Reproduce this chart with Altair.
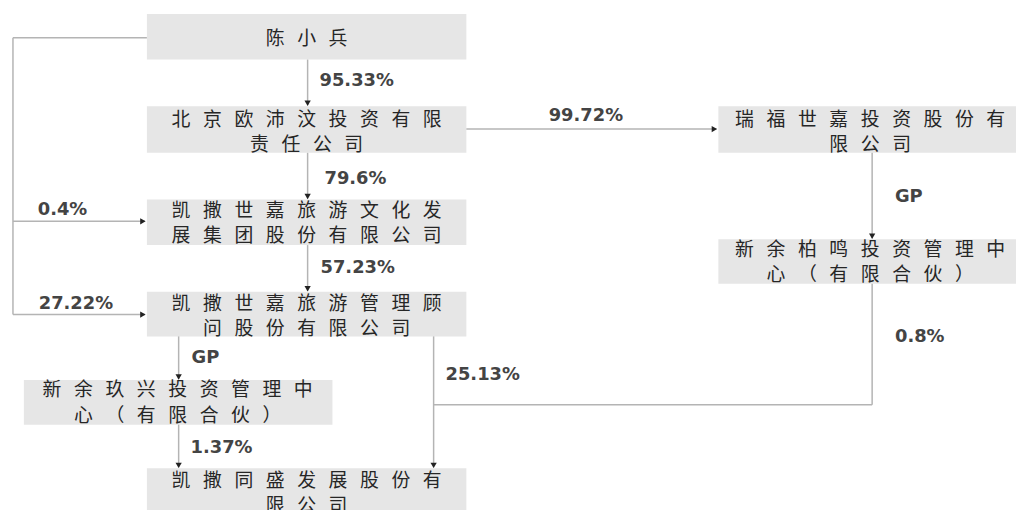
import altair as alt
import pandas as pd

# ---- nodes (company boxes) ----
node_names = [
    "陈小兵",
    "北京欧沛汶投资有限\n责任公司",
    "凯撒世嘉旅游文化发\n展集团股份有限公司",
    "瑞福世嘉投资股份有\n限公司",
    "新余柏鸣投资管理中\n心（有限合伙）",
    "凯撒世嘉旅游管理顾\n问股份有限公司",
    "新余玖兴投资管理中\n心（有限合伙）",
    "凯撒同盛发展股份有\n限公司",
]
box_x1 = [148, 148, 148, 724, 724, 148, 24, 148]
box_x2 = [470, 470, 470, 1030, 1030, 470, 335, 470]
box_y1 = [12, 105, 199, 105, 239, 292, 381, 470]
box_y2 = [58, 152, 245, 152, 284, 337, 426, 520]
text_x = [309, 309, 309, 877, 877, 309, 179, 309]
text_y = [37, 118.5, 210.5, 118.5, 250, 304, 391.5, 482.5]

# ---- connector segments ----
seg_x1 = [310, 310, 310, 470, 879, 148, 13, 13, 13, 180, 180, 437, 879, 879]
seg_y1 = [58, 152, 245, 128, 152, 36, 36, 221, 315, 337, 426, 337, 284, 406]
seg_x2 = [310, 310, 310, 722, 879, 13, 13, 146, 146, 180, 180, 437, 879, 437]
seg_y2 = [104, 198, 291, 128, 238, 36, 315, 221, 315, 380, 469, 469, 406, 406]

# ---- arrow heads ----
arr_x = [310, 310, 310, 720, 879, 144, 144, 180, 180, 437]
arr_y = [102, 196, 289, 128, 236, 221, 315, 378, 467, 467]
arr_shape = ["triangle-down", "triangle-down", "triangle-down", "triangle-right",
             "triangle-down", "triangle-right", "triangle-right",
             "triangle-down", "triangle-down", "triangle-down"]

# ---- edge labels ----
edge_labels = ["95.33%", "79.6%", "0.4%", "99.72%", "GP", "57.23%",
               "27.22%", "GP", "25.13%", "1.37%", "0.8%"]
edge_x = [322, 327, 38, 553, 902, 323, 39, 193, 449, 192, 902]
edge_y = [80, 178, 209.5, 115, 196.5, 268, 304, 359, 376, 450, 338]

SP = "\u2002\u2006"


def spaced(s):
    return "\n".join(SP.join(list(line)) for line in s.split("\n"))


nodes = pd.DataFrame({
    "name": [spaced(n) for n in node_names],
    "x1": box_x1, "x2": box_x2, "y1": box_y1, "y2": box_y2,
    "tx": text_x, "ty": text_y,
})
segs = pd.DataFrame({"x1": seg_x1, "y1": seg_y1, "x2": seg_x2, "y2": seg_y2})
arrows = pd.DataFrame({"x": arr_x, "y": arr_y, "shape": arr_shape})
edges = pd.DataFrame({"label": edge_labels, "x": edge_x, "y": edge_y})

xs = alt.Scale(domain=[8, 1024], nice=False, zero=False)
ys = alt.Scale(domain=[8, 510], nice=False, zero=False, reverse=True)

boxes = alt.Chart(nodes).mark_rect(color="#e6e6e6").encode(
    x=alt.X("x1:Q", scale=xs, axis=None),
    x2="x2:Q",
    y=alt.Y("y1:Q", scale=ys, axis=None),
    y2="y2:Q",
)

box_text = alt.Chart(nodes).mark_text(
    font="Noto Sans CJK SC", fontSize=19, color="#262626",
    align="center", baseline="middle", lineBreak="\n", lineHeight=25.5,
).encode(
    x=alt.X("tx:Q", scale=xs, axis=None),
    y=alt.Y("ty:Q", scale=ys, axis=None),
    text="name:N",
)

lines = alt.Chart(segs).mark_rule(color="#b4b4b4", strokeWidth=1.5).encode(
    x=alt.X("x1:Q", scale=xs, axis=None),
    y=alt.Y("y1:Q", scale=ys, axis=None),
    x2="x2:Q",
    y2="y2:Q",
)

heads = alt.Chart(arrows).mark_point(filled=True, color="#222222", size=40, opacity=1).encode(
    x=alt.X("x:Q", scale=xs, axis=None),
    y=alt.Y("y:Q", scale=ys, axis=None),
    shape=alt.Shape("shape:N", scale=None, legend=None),
)

edge_text = alt.Chart(edges).mark_text(
    font="DejaVu Sans", fontSize=18, fontWeight="bold", color="#444444",
    align="left", baseline="middle",
).encode(
    x=alt.X("x:Q", scale=xs, axis=None),
    y=alt.Y("y:Q", scale=ys, axis=None),
    text="label:N",
)

chart = alt.layer(boxes, lines, heads, box_text, edge_text).properties(
    width=1016, height=502, padding=0,
    autosize=alt.AutoSizeParams(type="none"),
).configure_view(stroke=None)

chart.save("out.html", embed_options={"renderer": "svg", "actions": False})
